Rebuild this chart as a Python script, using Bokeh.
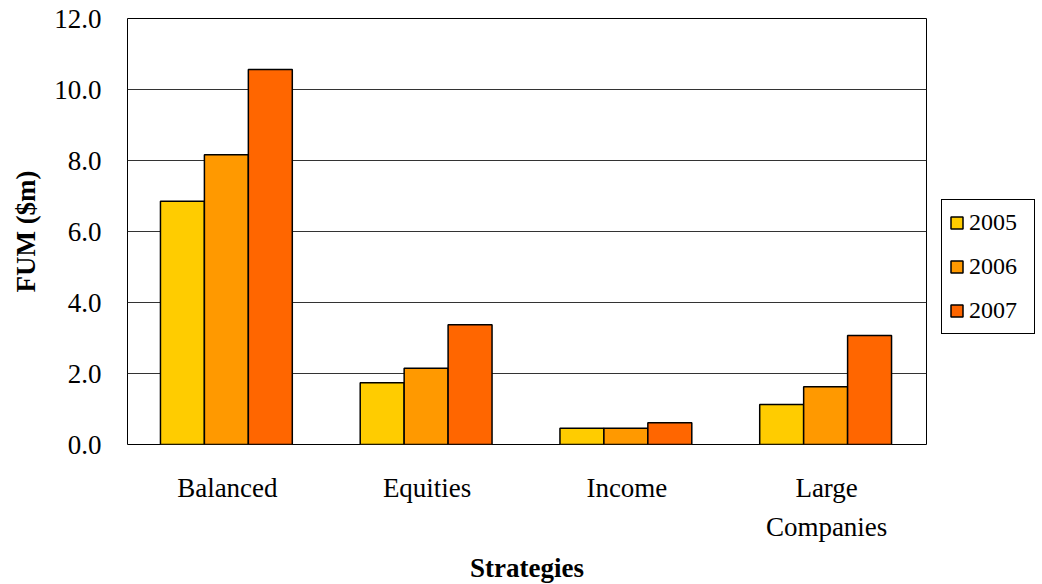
from bokeh.plotting import figure
from bokeh.models import ColumnDataSource, Legend, LegendItem, FactorRange, SingleIntervalTicker, NumeralTickFormatter
from bokeh.transform import dodge
from bokeh.embed import file_html
from bokeh.resources import INLINE

categories = ["Balanced", "Equities", "Income", "Large\nCompanies"]
years = ["2005", "2006", "2007"]
fum_2005 = [6.85, 1.74, 0.46, 1.13]
fum_2006 = [8.16, 2.15, 0.46, 1.63]
fum_2007 = [10.56, 3.37, 0.61, 3.07]
colors = ["#FFCC00", "#FF9900", "#FF6600"]

src = ColumnDataSource(dict(cat=categories, y2005=fum_2005, y2006=fum_2006, y2007=fum_2007))

FONT = "Liberation Serif"

p = figure(x_range=FactorRange(*categories), y_range=(0, 12),
           frame_width=799, frame_height=426, output_backend="svg", toolbar_location=None,
           min_border_left=127, min_border_right=116, min_border_top=18, min_border_bottom=140)

renderers = []
for i, (yr, col) in enumerate(zip(years, colors)):
    r = p.vbar(x=dodge("cat", -0.005 + (i - 1) * 0.22, range=p.x_range), top="y" + yr,
               width=0.22, source=src, fill_color=col, line_color="black", line_width=1.5)
    renderers.append(r)

p.outline_line_color = "black"
p.outline_line_width = 1
p.xgrid.grid_line_color = None
p.ygrid.grid_line_color = "#333333"
p.ygrid.grid_line_width = 1
p.x_range.range_padding = 0
p.x_range.group_padding = 0

p.yaxis.ticker = SingleIntervalTicker(interval=2)
p.yaxis.formatter = NumeralTickFormatter(format="0.0")
for ax in (p.xaxis[0], p.yaxis[0]):
    ax.axis_line_color = None
    ax.major_tick_line_color = None
    ax.minor_tick_line_color = None
    ax.major_tick_out = 0
    ax.major_tick_in = 0
    ax.major_label_text_font = FONT
    ax.major_label_text_font_size = "27px"
    ax.major_label_text_color = "black"
    ax.axis_label_text_font = FONT
    ax.axis_label_text_font_size = "27px"
    ax.axis_label_text_font_style = "bold"
    ax.axis_label_text_color = "black"

p.yaxis.axis_label = "FUM ($m)"
p.yaxis.major_label_standoff = 22
p.yaxis.axis_label_standoff = 10
p.xaxis.axis_label = "Strategies"
p.xaxis.major_label_standoff = 28
p.xaxis.axis_label_standoff = 8
p.xaxis.major_label_text_line_height = 1.3

legend = Legend(items=[LegendItem(label=yr, renderers=[r]) for yr, r in zip(years, renderers)],
                location=(15, 110), orientation="vertical")
legend.label_text_font = FONT
legend.label_text_font_size = "24px"
legend.label_text_color = "black"
legend.glyph_width = 15
legend.glyph_height = 15
legend.label_standoff = 5
legend.label_height = 31
legend.label_width = 58
legend.spacing = 13
legend.padding = 7
legend.margin = 0
legend.border_line_color = "black"
legend.border_line_alpha = 1
legend.border_line_width = 1
legend.background_fill_alpha = 1
p.add_layout(legend, "right")

open("out.html", "w").write(file_html(p, INLINE))
